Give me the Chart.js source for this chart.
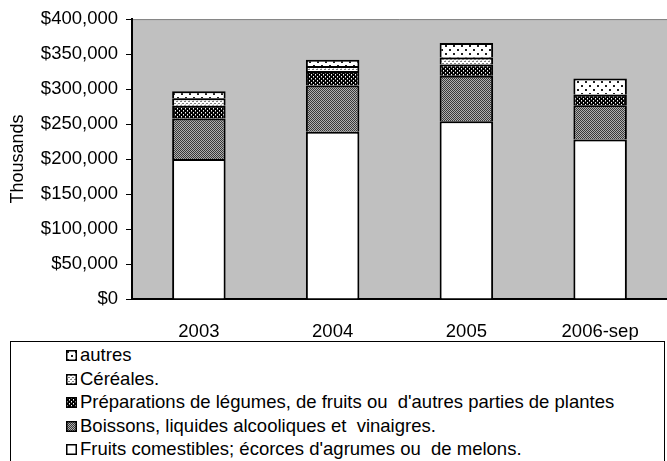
<!DOCTYPE html>
<html>
<head>
<meta charset="utf-8">
<script src="https://cdn.jsdelivr.net/npm/chart.js@4/dist/chart.umd.min.js"></script>
<style>
  html,body{margin:0;padding:0;background:#fff;}
  #wrap{position:relative;width:667px;height:461px;overflow:hidden;font-family:"Liberation Sans",Arial,sans-serif;}
  #c{position:absolute;left:0;top:0;}
  #legend{position:absolute;left:10px;top:341px;width:655px;height:140px;border:1px solid #000;box-sizing:border-box;}
  .item{position:absolute;left:55px;height:22px;line-height:22px;font-size:18.5px;color:#000;white-space:pre;}
  .item canvas{position:absolute;left:0;top:6px;}
  .item span{position:absolute;left:14px;top:0;}
</style>
</head>
<body>
<div id="wrap">
  <canvas id="c" width="667" height="340"></canvas>
  <div id="legend"></div>
</div>
<script>
const categories = ['2003', '2004', '2005', '2006-sep'];
const seriesNames = [
  'Fruits comestibles; écorces d\'agrumes ou  de melons.',
  'Boissons, liquides alcooliques et  vinaigres.',
  'Préparations de légumes, de fruits ou  d\'autres parties de plantes',
  'Céréales.',
  'autres'
];
const fruits = [200000, 239000, 254000, 228000];
const boissons = [58000, 66000, 65000, 49000];
const preparations = [18000, 21000, 16000, 15000];
const cereales = [11000, 7000, 10000, 1000];
const autres = [10000, 9000, 21000, 22000];
const yTicks = [0, 50000, 100000, 150000, 200000, 250000, 300000, 350000, 400000];

function makeTile(w, h, bg, pts) {
  const cv = document.createElement('canvas');
  cv.width = w; cv.height = h;
  const g = cv.getContext('2d');
  g.fillStyle = bg; g.fillRect(0, 0, w, h);
  pts.forEach(p => { g.fillStyle = p[2]; g.fillRect(p[0], p[1], p[3] || 1, p[4] || 1); });
  return cv;
}
const tiles = [
  makeTile(4, 4, '#ffffff', []),
  makeTile(2, 2, '#b0b0b0', [[0,0,'#383838'],[1,1,'#383838']]),
  makeTile(4, 4, '#000000', [[1,0,'#ffffff'],[3,2,'#ffffff'],[1,1,'#808080'],[3,3,'#808080']]),
  makeTile(4, 4, '#ffffff', [[0,1,'#808080',2,1],[2,3,'#808080',2,1],[1,0,'#d0d0d0']]),
  makeTile(8, 8, '#ffffff', [[1,1,'#202020',2,2],[5,5,'#202020',2,2]])
];
const ctx = document.getElementById('c').getContext('2d');
const patterns = tiles.map(t => ctx.createPattern(t, 'repeat'));
const seriesData = [fruits, boissons, preparations, cereales, autres];

const bgPlugin = {
  id: 'bg',
  beforeDraw(chart) {
    const a = chart.chartArea, g = chart.ctx;
    g.save();
    g.fillStyle = '#c0c0c0';
    g.fillRect(a.left, a.top, a.right - a.left, a.bottom - a.top);
    g.strokeStyle = '#808080';
    g.lineWidth = 1;
    g.beginPath();
    g.moveTo(a.left, a.top + 0.5); g.lineTo(a.right, a.top + 0.5);
    g.stroke();
    g.restore();
  }
};

new Chart(ctx, {
  type: 'bar',
  data: {
    labels: categories,
    datasets: seriesData.map((d, i) => ({
      label: seriesNames[i],
      data: d,
      backgroundColor: patterns[i],
      borderColor: '#000',
      borderWidth: 2,
      barPercentage: 0.4,
      categoryPercentage: 1.0
    }))
  },
  options: {
    responsive: false,
    animation: false,
    devicePixelRatio: 1,
    layout: { padding: { top: 19, right: 0, bottom: 0, left: 0 } },
    plugins: { legend: { display: false }, tooltip: { enabled: false } },
    scales: {
      x: {
        stacked: true,
        grid: { display: false },
        border: { display: true, color: '#000', width: 2 },
        ticks: { color: '#000', padding: 14, font: { family: 'Liberation Sans', size: 18.5 } },
        afterFit(s) { s.height = 41; }
      },
      y: {
        stacked: true,
        min: 0, max: 400000,
        afterBuildTicks(s) { s.ticks = yTicks.map(v => ({ value: v })); },
        grid: { drawOnChartArea: false, drawTicks: true, tickLength: 6, color: '#000' },
        border: { display: true, color: '#000', width: 2 },
        ticks: {
          color: '#000', padding: 8,
          font: { family: 'Liberation Sans', size: 18.5 },
          callback: v => '$' + Number(v).toLocaleString('en-US')
        },
        title: { display: true, text: 'Thousands', color: '#000', padding: { top: 7, bottom: 0 },
                 font: { family: 'Liberation Sans', size: 18 } },
        afterFit(s) { s.width = 132; }
      }
    }
  },
  plugins: [bgPlugin]
});

// HTML legend (reversed order, as in the reference)
const leg = document.getElementById('legend');
for (let k = 0; k < seriesNames.length; k++) {
  const i = seriesNames.length - 1 - k;
  const it = document.createElement('div');
  it.className = 'item';
  it.style.top = (2 + k * 23.5) + 'px';
  const sw = document.createElement('canvas');
  sw.width = 11; sw.height = 11;
  const g = sw.getContext('2d');
  g.fillStyle = g.createPattern(tiles[i], 'repeat');
  g.fillRect(0, 0, 11, 11);
  g.strokeStyle = '#000'; g.lineWidth = 1.5;
  g.strokeRect(0.75, 0.75, 9.5, 9.5);
  const tx = document.createElement('span');
  tx.textContent = seriesNames[i];
  it.appendChild(sw); it.appendChild(tx);
  leg.appendChild(it);
}
</script>
</body>
</html>
